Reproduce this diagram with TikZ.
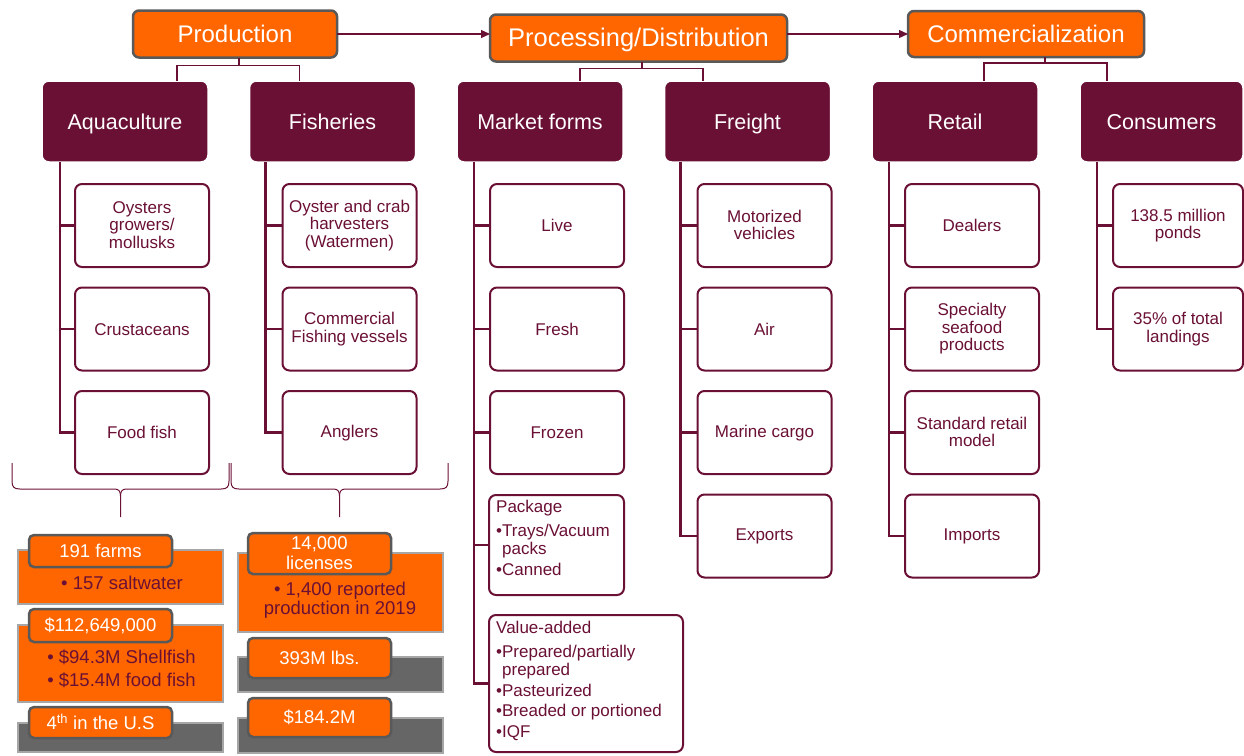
\documentclass[tikz,border=0pt]{standalone}
\usepackage{fontspec}
\setmainfont{Liberation Sans}
\usetikzlibrary{arrows.meta}
\definecolor{wine}{HTML}{6B1035}
\definecolor{tangerine}{HTML}{FF6600}
\definecolor{slate}{HTML}{595959}
\definecolor{ash}{HTML}{666666}
\definecolor{silver}{HTML}{A6A6A6}

\tikzset{
  stagebox/.style={draw=slate, line width=2.5pt, fill=tangerine, rounded corners=6pt,
    text=white, font=\fontsize{24}{26}\selectfont, minimum height=47pt,
    text height=18pt, text depth=1pt, inner sep=0pt, outer sep=0pt},
  groupbox/.style={draw=white, line width=1.5pt, fill=wine, rounded corners=7pt,
    text=white, font=\fontsize{21.5}{24}\selectfont, minimum width=166pt,
    minimum height=81pt, text height=16pt, text depth=1pt, inner sep=0pt, outer sep=0pt},
  entrybox/.style={draw=wine, line width=2pt, fill=white, rounded corners=7pt,
    text=wine, font=\fontsize{17}{17.5}\selectfont, align=center,
    execute at begin node={\rule[-1pt]{0pt}{14pt}},
    minimum width=134pt, minimum height=83pt, inner sep=0pt, outer sep=0pt},
  listtext/.style={text=wine, font=\fontsize{17}{20.5}\selectfont, align=left,
    inner sep=0pt, anchor=north west},
  tagbox/.style={draw=slate, line width=2.5pt, fill=tangerine, rounded corners=5pt,
    text=white, font=\fontsize{18.5}{19.5}\selectfont, align=center,
    execute at begin node={\rule[-1pt]{0pt}{15pt}},
    minimum width=143pt, inner sep=0pt, outer sep=0pt},
  panelbox/.style={draw=silver, line width=2.5pt, fill=tangerine, minimum width=205pt,
    inner sep=0pt, outer sep=0pt},
  shadebox/.style={panelbox, fill=ash},
  factline/.style={text=wine, font=\fontsize{18.5}{23}\selectfont, align=left, inner sep=0pt},
  flow/.style={draw=wine, line width=1.2pt, -{Triangle[length=9pt,width=8pt]}},
  link/.style={draw=wine, line width=1.5pt},
  spine/.style={draw=wine, line width=2.5pt},
  curly/.style={draw=wine, line width=1pt}
}

\begin{document}
\begin{tikzpicture}[x=1pt,y=-1pt]
\useasboundingbox (0,0) rectangle (1244,755);

% value chain stages
\node[stagebox, minimum width=204pt] (prod) at (235,34) {Production};
\node[stagebox, minimum width=297pt, font=\fontsize{25.5}{27}\selectfont] (proc) at (638.5,38) {Processing/Distribution};
\node[stagebox, minimum width=236pt, minimum height=46pt] (comm) at (1026,34) {Commercialization};

\draw[flow] (prod.east) -- (proc.west |- prod.east);
\draw[flow] (proc.east |- prod.east) -- (comm.west);

% groups
\node[groupbox] (aqua) at (125,121.5) {Aquaculture};
\node[groupbox] (fish) at (332.5,121.5) {Fisheries};
\node[groupbox] (mkt) at (540,121.5) {Market forms};
\node[groupbox] (frt) at (747.5,121.5) {Freight};
\node[groupbox] (retl) at (955,121.5) {Retail};
\node[groupbox, minimum width=163pt] (cons) at (1161.5,121.5) {Consumers};

\draw[link] ([xshift=4pt]prod.south) -- ++(0,8) coordinate (prodj);
\draw[link] ([xshift=52pt]aqua.north) |- (prodj) -| ([xshift=-33pt]fish.north);
\draw[link] ([xshift=3.5pt]proc.south) -- ++(0,7) coordinate (procj);
\draw[link] ([xshift=40pt]mkt.north) |- (procj) -| ([xshift=-44.5pt]frt.north);
\draw[link] ([xshift=19pt]comm.south) -- ++(0,6) coordinate (commj);
\draw[link] ([xshift=29pt]retl.north) |- (commj) -| ([xshift=-54.5pt]cons.north);

% aquaculture column
\foreach \txt [count=\i] in {{Oysters\\growers/\\mollusks}, Crustaceans, {Food fish}}
  \node[entrybox] (aqua\i) at (142,{225.5+103.5*(\i-1)}) {\txt};
\coordinate (aquas) at ([xshift=18pt]aqua.south west);
\draw[spine] (aquas) |- (aqua3.west);
\foreach \i in {1,2} \draw[spine] (aquas |- aqua\i.west) -- (aqua\i.west);

% fisheries column
\foreach \txt [count=\i] in {{Oyster and crab\\harvesters\\(Watermen)}, {Commercial\\Fishing vessels}, Anglers}
  \node[entrybox] (fish\i) at (349.5,{225.5+103.5*(\i-1)}) {\txt};
\coordinate (fishs) at ([xshift=16pt]fish.south west);
\draw[spine] (fishs) |- (fish3.west);
\foreach \i in {1,2} \draw[spine] (fishs |- fish\i.west) -- (fish\i.west);

% market forms column
\foreach \txt [count=\i] in {Live, Fresh, Frozen}
  \node[entrybox] (mkt\i) at (557,{225.5+103.5*(\i-1)}) {\txt};
\node[entrybox, minimum width=135pt, minimum height=100pt] (pkg) at (556.5,545) {};
\node[listtext] (pkgtxt) at ([xshift=7pt,yshift=-5pt]pkg.north west)
  {Package\\[3pt] •Trays/Vacuum\\[-2pt] \hphantom{•}packs\\ •Canned};
\node[entrybox, minimum width=194pt, minimum height=137pt] (val) at (586,683.5) {};
\node[listtext] (valtxt) at ([xshift=7pt,yshift=-6pt]val.north west)
  {Value-added\\[3pt] •Prepared/partially\\[-2pt] \hphantom{•}prepared\\ •Pasteurized\\ •Breaded or portioned\\ •IQF};
\coordinate (mkts) at ([xshift=17pt]mkt.south west);
\draw[spine] (mkts) |- (val.west);
\foreach \n in {mkt1,mkt2,mkt3,pkg} \draw[spine] (mkts |- \n.west) -- (\n.west);

% freight column
\foreach \txt [count=\i] in {{Motorized\\vehicles}, Air, {Marine cargo}, Exports}
  \node[entrybox] (frt\i) at (764.5,{225.5+103.5*(\i-1)}) {\txt};
\coordinate (frts) at ([xshift=16pt]frt.south west);
\draw[spine] (frts) |- (frt4.west);
\foreach \i in {1,2,3} \draw[spine] (frts |- frt\i.west) -- (frt\i.west);

% retail column
\foreach \txt [count=\i] in {Dealers, {Specialty\\seafood\\products}, {Standard retail\\model}, Imports}
  \node[entrybox] (retl\i) at (972,{225.5+103.5*(\i-1)}) {\txt};
\coordinate (retls) at ([xshift=17pt]retl.south west);
\draw[spine] (retls) |- (retl4.west);
\foreach \i in {1,2,3} \draw[spine] (retls |- retl\i.west) -- (retl\i.west);

% consumers column
\foreach \txt [count=\i] in {{138.5 million\\ponds}, {35\% of total\\landings}}
  \node[entrybox, minimum width=130pt] (cons\i) at (1178,{225.5+103.5*(\i-1)}) {\txt};
\coordinate (conss) at ([xshift=17pt]cons.south west);
\draw[spine] (conss) |- (cons2.west);
\draw[spine] (conss |- cons1.west) -- (cons1.west);

% braces
\foreach \xl/\xr in {12/229, 231/448} {
  \pgfmathsetmacro{\xm}{(\xl+\xr)/2}
  \draw[curly] (\xl,463) -- (\xl,481) .. controls (\xl,487) and (\xl+2,489) .. (\xl+8,489)
    -- (\xm-6,489) .. controls (\xm-2,489) and (\xm,491) .. (\xm,496) -- (\xm,517);
  \draw[curly] (\xm,496) .. controls (\xm,491) and (\xm+2,489) .. (\xm+6,489)
    -- (\xr-8,489) .. controls (\xr-2,489) and (\xr,487) .. (\xr,481) -- (\xr,463);
}

% aquaculture facts
\node[panelbox, minimum height=54pt] (farms) at (120.5,577) {};
\node[tagbox, minimum height=32pt] (farmstag) at (100.5,551) {191 farms};
\node[factline] (farmsnote) at (122,583) {• 157 saltwater};
\node[panelbox, minimum height=77pt] (worth) at (120.5,663.5) {};
\node[tagbox, minimum height=33pt] (worthtag) at (100.5,625.5) {\$112,649,000};
\node[factline] (worthnote) at (121.5,668.5) {• \$94.3M Shellfish\\ • \$15.4M food fish};
\node[shadebox, minimum height=29pt] (rank) at (120.5,737.5) {};
\node[tagbox, minimum height=31pt] (ranktag) at (100.5,722.5) {4\textsuperscript{th} in the U.S};

% fisheries facts
\node[panelbox, minimum height=79pt] (lic) at (340.5,592.5) {};
\node[tagbox, minimum height=41pt] (lictag) at (319.5,553.5) {14,000\\licenses};
\node[factline, align=center, font=\fontsize{18.5}{19}\selectfont] (licnote) at (340,600) {• 1,400 reported\\production in 2019};
\node[shadebox, minimum height=35pt] (catch) at (340.5,674.5) {};
\node[tagbox, minimum height=40pt] (catchtag) at (319.5,658) {393M lbs.};
\node[shadebox, minimum height=35pt] (sales) at (340.5,735.5) {};
\node[tagbox, minimum height=39pt] (salestag) at (319.5,717.5) {\$184.2M};
\end{tikzpicture}
\end{document}
